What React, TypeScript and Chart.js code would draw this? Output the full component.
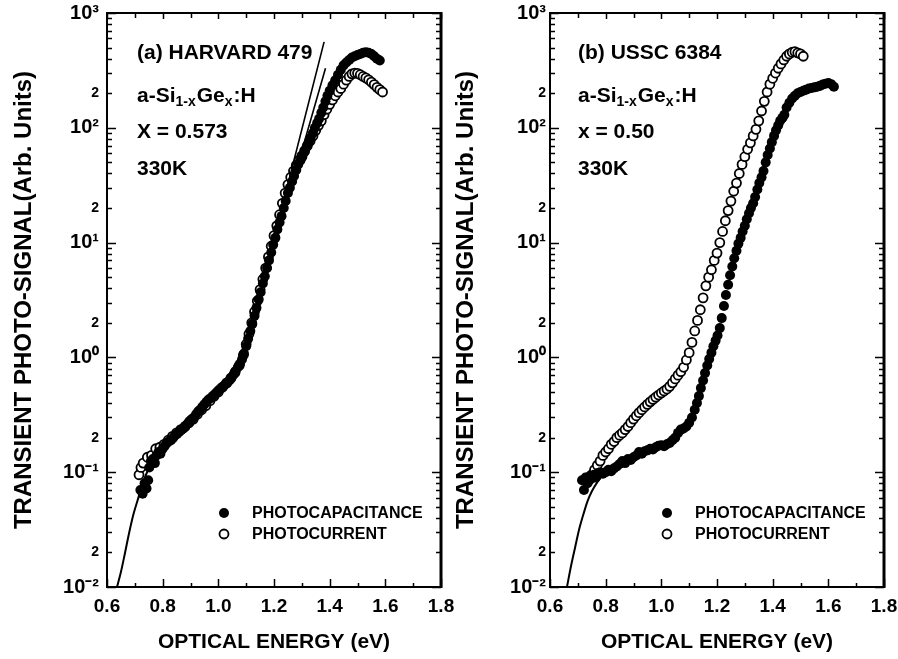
import { useEffect, useRef } from "react";
import { Chart, registerables } from "chart.js";

Chart.register(...registerables);

const FONT = '"Liberation Sans", Arial, Helvetica, sans-serif';

const X_TITLE = "OPTICAL ENERGY (eV)";
const Y_TITLE = "TRANSIENT PHOTO-SIGNAL(Arb. Units)";
const X_TICKS = [0.6, 0.8, 1.0, 1.2, 1.4, 1.6, 1.8];
const X_MINOR = [0.7, 0.9, 1.1, 1.3, 1.5, 1.7];
const Y_DECADES = [0.01, 0.1, 1, 10, 100, 1000];
const Y_DECADE_LABELS = ["10⁻²", "10⁻¹", "10⁰", "10¹", "10²", "10³"];
const Y_MINOR_MULT = [2, 3, 4, 5, 6, 7, 8, 9];
const Y_MINOR_LABEL = "2";
const LEGEND_LABELS = ["PHOTOCAPACITANCE", "PHOTOCURRENT"];

// ---------- Panel (a) HARVARD 479 ----------
const A_CAP_E = [
  0.72, 0.728, 0.735, 0.742, 0.748, 0.752, 0.758, 0.765, 0.772, 0.778, 0.785, 0.792, 0.8, 0.808, 0.815,
  0.822, 0.83, 0.838, 0.845, 0.852, 0.86, 0.868, 0.875, 0.882, 0.89, 0.898, 0.905, 0.912, 0.92, 0.928,
  0.935, 0.942, 0.95, 0.958, 0.965, 0.972, 0.98, 0.988, 0.995, 1.002, 1.01, 1.018, 1.025, 1.032, 1.04,
  1.048, 1.055, 1.062, 1.07, 1.078, 1.085, 1.092, 1.1, 1.107, 1.115, 1.122, 1.13, 1.137, 1.145, 1.152,
  1.16, 1.167, 1.175, 1.182, 1.19, 1.197, 1.205, 1.212, 1.22, 1.227, 1.235, 1.242, 1.25, 1.257, 1.265,
  1.272, 1.28, 1.287, 1.295, 1.302, 1.31, 1.317, 1.325, 1.332, 1.34, 1.347, 1.355, 1.362, 1.37, 1.377,
  1.385, 1.392, 1.4, 1.41, 1.42, 1.43, 1.44, 1.45, 1.46, 1.47, 1.48, 1.49, 1.5, 1.51, 1.52, 1.53, 1.54,
  1.55, 1.56, 1.57, 1.58,
];
const A_CAP_V = [
  0.07, 0.065, 0.08, 0.072, 0.085, 0.11, 0.125, 0.13, 0.12, 0.14, 0.15, 0.145, 0.16, 0.17, 0.18,
  0.185, 0.19, 0.2, 0.21, 0.215, 0.225, 0.235, 0.24, 0.25, 0.265, 0.28, 0.29, 0.3, 0.32, 0.34,
  0.35, 0.37, 0.39, 0.41, 0.43, 0.44, 0.46, 0.48, 0.5, 0.52, 0.54, 0.56, 0.58, 0.6, 0.63,
  0.67, 0.71, 0.76, 0.82, 0.88, 0.96, 1.08, 1.25, 1.45, 1.7, 1.95, 2.3, 2.7, 3.2, 3.7,
  4.4, 5.1, 6.0, 7.0, 8.2, 9.6, 11, 13, 15, 17, 20, 23, 27, 30, 34,
  38, 43, 48, 52, 56, 62, 68, 75, 82, 90, 100, 110, 120, 135, 150,
  170, 190, 210, 235, 260, 290, 320, 350, 370, 390, 410, 420, 430, 440, 450, 455, 450,
  440, 420, 400, 385,
];
const A_CUR_E = [
  0.715, 0.722, 0.73, 0.745, 0.76, 0.775, 0.79, 0.805, 0.82, 0.835, 0.85, 0.865, 0.88, 0.895, 0.91,
  0.925, 0.94, 0.955, 0.97, 0.985, 1.0, 1.015, 1.03, 1.045, 1.06, 1.075, 1.09, 1.1, 1.11, 1.12,
  1.13, 1.14, 1.15, 1.16, 1.17, 1.18, 1.19, 1.2, 1.21, 1.22, 1.23, 1.24, 1.25, 1.26, 1.27,
  1.28, 1.29, 1.3, 1.31, 1.32, 1.33, 1.34, 1.35, 1.36, 1.37, 1.38, 1.39, 1.4, 1.41, 1.42,
  1.43, 1.44, 1.45, 1.46, 1.47, 1.48, 1.49, 1.5, 1.51, 1.52, 1.53, 1.54, 1.55, 1.56, 1.57, 1.58, 1.59,
];
const A_CUR_V = [
  0.095, 0.11, 0.12, 0.135, 0.14, 0.16, 0.165, 0.175, 0.19, 0.205, 0.22, 0.235, 0.25, 0.27, 0.29,
  0.32, 0.35, 0.38, 0.42, 0.46, 0.5, 0.55, 0.6, 0.66, 0.74, 0.85, 1.05, 1.3, 1.6, 2.0,
  2.5, 3.1, 3.9, 4.8, 6.0, 7.5, 9.3, 11.5, 14, 17.5, 22, 27, 32, 37, 42,
  47, 52, 57, 63, 70, 77, 85, 95, 105, 115, 130, 145, 160, 175, 190,
  205, 220, 240, 260, 280, 295, 300, 298, 290, 280, 272, 262, 250, 238, 225, 215, 205,
];
const A_EDGE_E = [0.636, 0.65, 0.665, 0.68, 0.695, 0.71, 0.725, 0.74, 0.76, 0.78];
const A_EDGE_V = [0.01, 0.0135, 0.02, 0.03, 0.043, 0.057, 0.075, 0.095, 0.12, 0.145];
const A_FIT1_E = [1.15, 1.38];
const A_FIT1_V = [3.6, 560];
const A_FIT2_E = [1.17, 1.385];
const A_FIT2_V = [5.0, 330];

// ---------- Panel (b) USSC 6384 ----------
const B_CAP_E = [
  0.715, 0.722, 0.728, 0.735, 0.742, 0.75, 0.758, 0.765, 0.772, 0.78, 0.79, 0.8, 0.81, 0.82, 0.83,
  0.84, 0.85, 0.86, 0.87, 0.88, 0.89, 0.9, 0.91, 0.92, 0.93, 0.94, 0.95, 0.96, 0.97, 0.98,
  0.99, 1.0, 1.01, 1.02, 1.03, 1.04, 1.05, 1.06, 1.07, 1.08, 1.09, 1.1, 1.11, 1.12, 1.128,
  1.135, 1.142, 1.15, 1.157, 1.165, 1.172, 1.18, 1.187, 1.195, 1.202, 1.21, 1.217, 1.225, 1.232, 1.24,
  1.247, 1.255, 1.262, 1.27, 1.277, 1.285, 1.292, 1.3, 1.307, 1.315, 1.322, 1.33, 1.337, 1.345, 1.352,
  1.36, 1.367, 1.375, 1.382, 1.39, 1.397, 1.405, 1.412, 1.42, 1.427, 1.435, 1.442, 1.45, 1.46, 1.47,
  1.48, 1.49, 1.5, 1.51, 1.52, 1.53, 1.54, 1.55, 1.56, 1.57, 1.58, 1.59, 1.6, 1.61, 1.62,
];
const B_CAP_V = [
  0.085, 0.07, 0.09, 0.08, 0.092, 0.088, 0.095, 0.09, 0.098, 0.1, 0.097, 0.1, 0.105, 0.102, 0.108,
  0.112, 0.118, 0.125, 0.12, 0.13, 0.128, 0.135, 0.14, 0.15, 0.145, 0.152, 0.155, 0.16, 0.158, 0.165,
  0.17, 0.172, 0.168, 0.175, 0.18, 0.19, 0.2, 0.22, 0.235, 0.24, 0.25, 0.27, 0.3, 0.35, 0.4,
  0.46, 0.54, 0.63, 0.73, 0.85, 0.97, 1.1, 1.25, 1.4, 1.55, 1.8, 2.2, 2.8, 3.5, 4.3,
  5.2, 6.2, 7.3, 8.5, 9.8, 11, 12.5, 14, 16, 18, 20, 22, 25, 29, 33,
  37, 42, 50, 58, 66, 75, 85, 95, 105, 115, 122, 130, 150, 165, 180,
  190, 200, 205, 210, 215, 220, 222, 225, 228, 232, 238, 242, 245, 240, 228,
];
const B_CUR_E = [
  0.74, 0.75, 0.76, 0.77, 0.78, 0.79, 0.8, 0.81, 0.82, 0.83, 0.84, 0.85, 0.86, 0.87, 0.88,
  0.89, 0.9, 0.91, 0.92, 0.93, 0.94, 0.95, 0.96, 0.97, 0.98, 0.99, 1.0, 1.01, 1.02, 1.03,
  1.04, 1.05, 1.06, 1.07, 1.08, 1.09, 1.1, 1.11, 1.12, 1.13, 1.14, 1.15, 1.16, 1.17, 1.18,
  1.19, 1.2, 1.21, 1.22, 1.23, 1.24, 1.25, 1.26, 1.27, 1.28, 1.29, 1.3, 1.31, 1.32, 1.33,
  1.34, 1.35, 1.36, 1.37, 1.38, 1.39, 1.4, 1.41, 1.42, 1.43, 1.44, 1.45, 1.46, 1.47, 1.48,
  1.49, 1.5, 1.51,
];
const B_CUR_V = [
  0.085, 0.095, 0.105, 0.115, 0.125, 0.14, 0.15, 0.16, 0.175, 0.185, 0.2, 0.21, 0.22, 0.235, 0.25,
  0.27, 0.29, 0.31, 0.33, 0.35, 0.37, 0.39, 0.41, 0.43, 0.45, 0.47, 0.49, 0.51, 0.53, 0.56,
  0.6, 0.65, 0.7, 0.75, 0.82, 0.95, 1.1, 1.35, 1.7, 2.1, 2.6, 3.3, 4.2, 5.0, 5.8,
  7.0, 8.1, 10, 12.5, 15.5, 19, 23, 28, 33, 40, 48, 56, 65, 74, 85,
  97, 115, 140, 170, 205, 240, 270, 300, 330, 360, 390, 420, 440, 455, 460,
  450, 440, 420,
];
const B_EDGE_E = [0.661, 0.675, 0.69, 0.705, 0.72, 0.735, 0.75, 0.77, 0.79];
const B_EDGE_V = [0.01, 0.015, 0.022, 0.032, 0.043, 0.056, 0.068, 0.082, 0.095];

type Part = { t: string; sub?: boolean };
type PanelCfg = {
  capE: number[];
  capV: number[];
  curE: number[];
  curV: number[];
  lines: { e: number[]; v: number[]; w: number }[];
  padLeft: number;
  yWidth: number;
  padRight: number;
  yTitlePad: number;
  yTickPad: number;
  textX: number;
  textLines: { y: number; parts: Part[] }[];
  legendX: number;
  legendTextX: number;
};

const pts = (e: number[], v: number[]) => e.map((x, i) => ({ x, y: v[i] }));

const PANEL_A: PanelCfg = {
  capE: A_CAP_E,
  capV: A_CAP_V,
  curE: A_CUR_E,
  curV: A_CUR_V,
  lines: [
    { e: A_EDGE_E, v: A_EDGE_V, w: 2 },
    { e: A_FIT1_E, v: A_FIT1_V, w: 1.6 },
    { e: A_FIT2_E, v: A_FIT2_V, w: 1.6 },
  ],
  padLeft: 0,
  yWidth: 107,
  padRight: 898 - 441,
  yTitlePad: 10,
  yTickPad: 8,
  textX: 137,
  textLines: [
    { y: 53, parts: [{ t: "(a) HARVARD 479" }] },
    { y: 96, parts: [{ t: "a-Si" }, { t: "1-x", sub: true }, { t: "Ge" }, { t: "x", sub: true }, { t: ":H" }] },
    { y: 132, parts: [{ t: "X = 0.573" }] },
    { y: 169, parts: [{ t: "330K" }] },
  ],
  legendX: 224,
  legendTextX: 252,
};

const PANEL_B: PanelCfg = {
  capE: B_CAP_E,
  capV: B_CAP_V,
  curE: B_CUR_E,
  curV: B_CUR_V,
  lines: [{ e: B_EDGE_E, v: B_EDGE_V, w: 2 }],
  padLeft: 449,
  yWidth: 101,
  padRight: 14,
  yTitlePad: 3,
  yTickPad: 4,
  textX: 578,
  textLines: [
    { y: 53, parts: [{ t: "(b) USSC 6384" }] },
    { y: 96, parts: [{ t: "a-Si" }, { t: "1-x", sub: true }, { t: "Ge" }, { t: "x", sub: true }, { t: ":H" }] },
    { y: 132, parts: [{ t: "x = 0.50" }] },
    { y: 169, parts: [{ t: "330K" }] },
  ],
  legendX: 667,
  legendTextX: 695,
};

const isDecade = (v: number) => Math.abs(Math.log10(v) - Math.round(Math.log10(v))) < 1e-6;
const mantissa = (v: number) => v / Math.pow(10, Math.floor(Math.log10(v) + 1e-9));

function buildYTicks() {
  const out: { value: number }[] = [];
  Y_DECADES.forEach((d, i) => {
    out.push({ value: d });
    if (i < Y_DECADES.length - 1) Y_MINOR_MULT.forEach((m) => out.push({ value: +(d * m).toPrecision(6) }));
  });
  return out;
}

function Panel({ cfg }: { cfg: PanelCfg }) {
  const ref = useRef<HTMLCanvasElement>(null);
  useEffect(() => {
    const canvas = ref.current!;
    const deco = {
      id: "deco",
      afterDatasetsDraw(chart: any) {
        const ctx = chart.ctx as CanvasRenderingContext2D;
        const { left, right, top, bottom } = chart.chartArea;
        const xs = chart.scales.x;
        const ys = chart.scales.y;
        ctx.save();
        ctx.strokeStyle = "#000";
        ctx.lineWidth = 1.5;
        ctx.beginPath();
        ys.ticks.forEach((t: any) => {
          const p = Math.round(ys.getPixelForValue(t.value)) + 0.5;
          const len = isDecade(t.value) ? 9 : 5;
          ctx.moveTo(left, p);
          ctx.lineTo(left + len, p);
          ctx.moveTo(right, p);
          ctx.lineTo(right - len, p);
        });
        X_TICKS.forEach((v) => {
          const p = Math.round(xs.getPixelForValue(v)) + 0.5;
          ctx.moveTo(p, bottom);
          ctx.lineTo(p, bottom - 8);
          ctx.moveTo(p, top);
          ctx.lineTo(p, top + 6);
        });
        X_MINOR.forEach((v) => {
          const p = Math.round(xs.getPixelForValue(v)) + 0.5;
          ctx.moveTo(p, bottom);
          ctx.lineTo(p, bottom - 4);
          ctx.moveTo(p, top);
          ctx.lineTo(p, top + 5);
        });
        ctx.stroke();
        ctx.lineWidth = 2;
        ctx.strokeRect(left, top, right - left, bottom - top);
        ctx.lineWidth = 3;
        ctx.beginPath();
        ctx.moveTo(right, top - 1);
        ctx.lineTo(right, bottom + 1);
        ctx.stroke();

        ctx.fillStyle = "#000";
        ctx.textBaseline = "middle";
        ctx.textAlign = "left";
        cfg.textLines.forEach((ln) => {
          let x = cfg.textX;
          ln.parts.forEach((p) => {
            ctx.font = `bold ${p.sub ? 14 : 21}px ${FONT}`;
            ctx.fillText(p.t, x, ln.y + (p.sub ? 6 : 0));
            x += ctx.measureText(p.t).width + (p.sub ? 1 : 0);
          });
        });

        const ly = [513, 534];
        ctx.font = `bold 16px ${FONT}`;
        LEGEND_LABELS.forEach((lab, i) => {
          ctx.beginPath();
          ctx.arc(cfg.legendX, ly[i], i === 0 ? 5 : 4.5, 0, Math.PI * 2);
          if (i === 0) {
            ctx.fillStyle = "#000";
            ctx.fill();
          } else {
            ctx.fillStyle = "#fff";
            ctx.fill();
            ctx.lineWidth = 1.8;
            ctx.strokeStyle = "#000";
            ctx.stroke();
          }
          ctx.fillStyle = "#000";
          ctx.fillText(lab, cfg.legendTextX, ly[i] + 1);
        });
        ctx.restore();
      },
    };

    const datasets: any[] = [
      {
        label: LEGEND_LABELS[0],
        data: pts(cfg.capE, cfg.capV),
        pointRadius: 5,
        pointBorderWidth: 0,
        pointBackgroundColor: "#000",
        pointBorderColor: "#000",
        showLine: false,
        order: 1,
      },
      {
        label: LEGEND_LABELS[1],
        data: pts(cfg.curE, cfg.curV),
        pointRadius: 4.5,
        pointBorderWidth: 1.8,
        pointBackgroundColor: "#fff",
        pointBorderColor: "#000",
        showLine: false,
        order: 2,
      },
      ...cfg.lines.map((l) => ({
        label: "fit",
        data: pts(l.e, l.v),
        showLine: true,
        borderColor: "#000",
        borderWidth: l.w,
        pointRadius: 0,
        tension: 0.3,
        order: 0,
      })),
    ];

    const chart = new Chart(canvas, {
      type: "scatter",
      data: { datasets },
      options: {
        responsive: false,
        animation: false,
        devicePixelRatio: 1,
        layout: { padding: { left: cfg.padLeft, right: cfg.padRight, top: 13, bottom: 0 } },
        plugins: { legend: { display: false }, tooltip: { enabled: false } },
        scales: {
          x: {
            type: "linear",
            min: 0.6,
            max: 1.8,
            afterBuildTicks: (s: any) => {
              s.ticks = X_TICKS.map((v) => ({ value: v }));
            },
            afterFit: (s: any) => {
              s.height = 72;
              s.paddingLeft = 0;
              s.paddingRight = 0;
            },
            grid: { display: false, drawTicks: false },
            border: { display: false },
            ticks: {
              autoSkip: false,
              maxRotation: 0,
              padding: 8,
              color: "#000",
              font: { family: FONT, size: 19, weight: "bold" },
              callback: (v: any) => Number(v).toFixed(1),
            },
            title: {
              display: true,
              text: X_TITLE,
              color: "#000",
              font: { family: FONT, size: 21, weight: "bold" },
              padding: { top: 0, bottom: 4 },
            },
          },
          y: {
            type: "logarithmic",
            min: 0.01,
            max: 1000,
            afterBuildTicks: (s: any) => {
              s.ticks = buildYTicks();
            },
            afterFit: (s: any) => {
              s.width = cfg.yWidth;
              s.paddingTop = 0;
              s.paddingBottom = 0;
            },
            grid: { display: false, drawTicks: false },
            border: { display: false },
            ticks: {
              autoSkip: false,
              padding: cfg.yTickPad,
              color: "#000",
              font: (c: any) => {
                const v = c.tick ? c.tick.value : 1;
                return { family: FONT, size: isDecade(v) ? 20 : 14, weight: "bold" };
              },
              callback: (v: any) => {
                const n = Number(v);
                if (isDecade(n)) {
                  const i = Y_DECADES.findIndex((d) => Math.abs(Math.log10(d) - Math.log10(n)) < 1e-6);
                  return Y_DECADE_LABELS[i];
                }
                return Math.abs(mantissa(n) - 2) < 1e-6 ? Y_MINOR_LABEL : "";
              },
            },
            title: {
              display: true,
              text: Y_TITLE,
              color: "#000",
              font: { family: FONT, size: 24, weight: "bold" },
              padding: { top: cfg.yTitlePad, bottom: 0 },
            },
          },
        },
      },
      plugins: [deco],
    } as any);
    return () => chart.destroy();
  }, [cfg]);
  return (
    <canvas
      ref={ref}
      width={898}
      height={659}
      style={{ display: "block", position: "absolute", left: 0, top: 0, width: 898, height: 659 }}
    />
  );
}

export default function App() {
  return (
    <div style={{ position: "absolute", left: 0, top: 0, width: 898, height: 659, background: "#fff" }}>
      <Panel cfg={PANEL_A} />
      <Panel cfg={PANEL_B} />
    </div>
  );
}
